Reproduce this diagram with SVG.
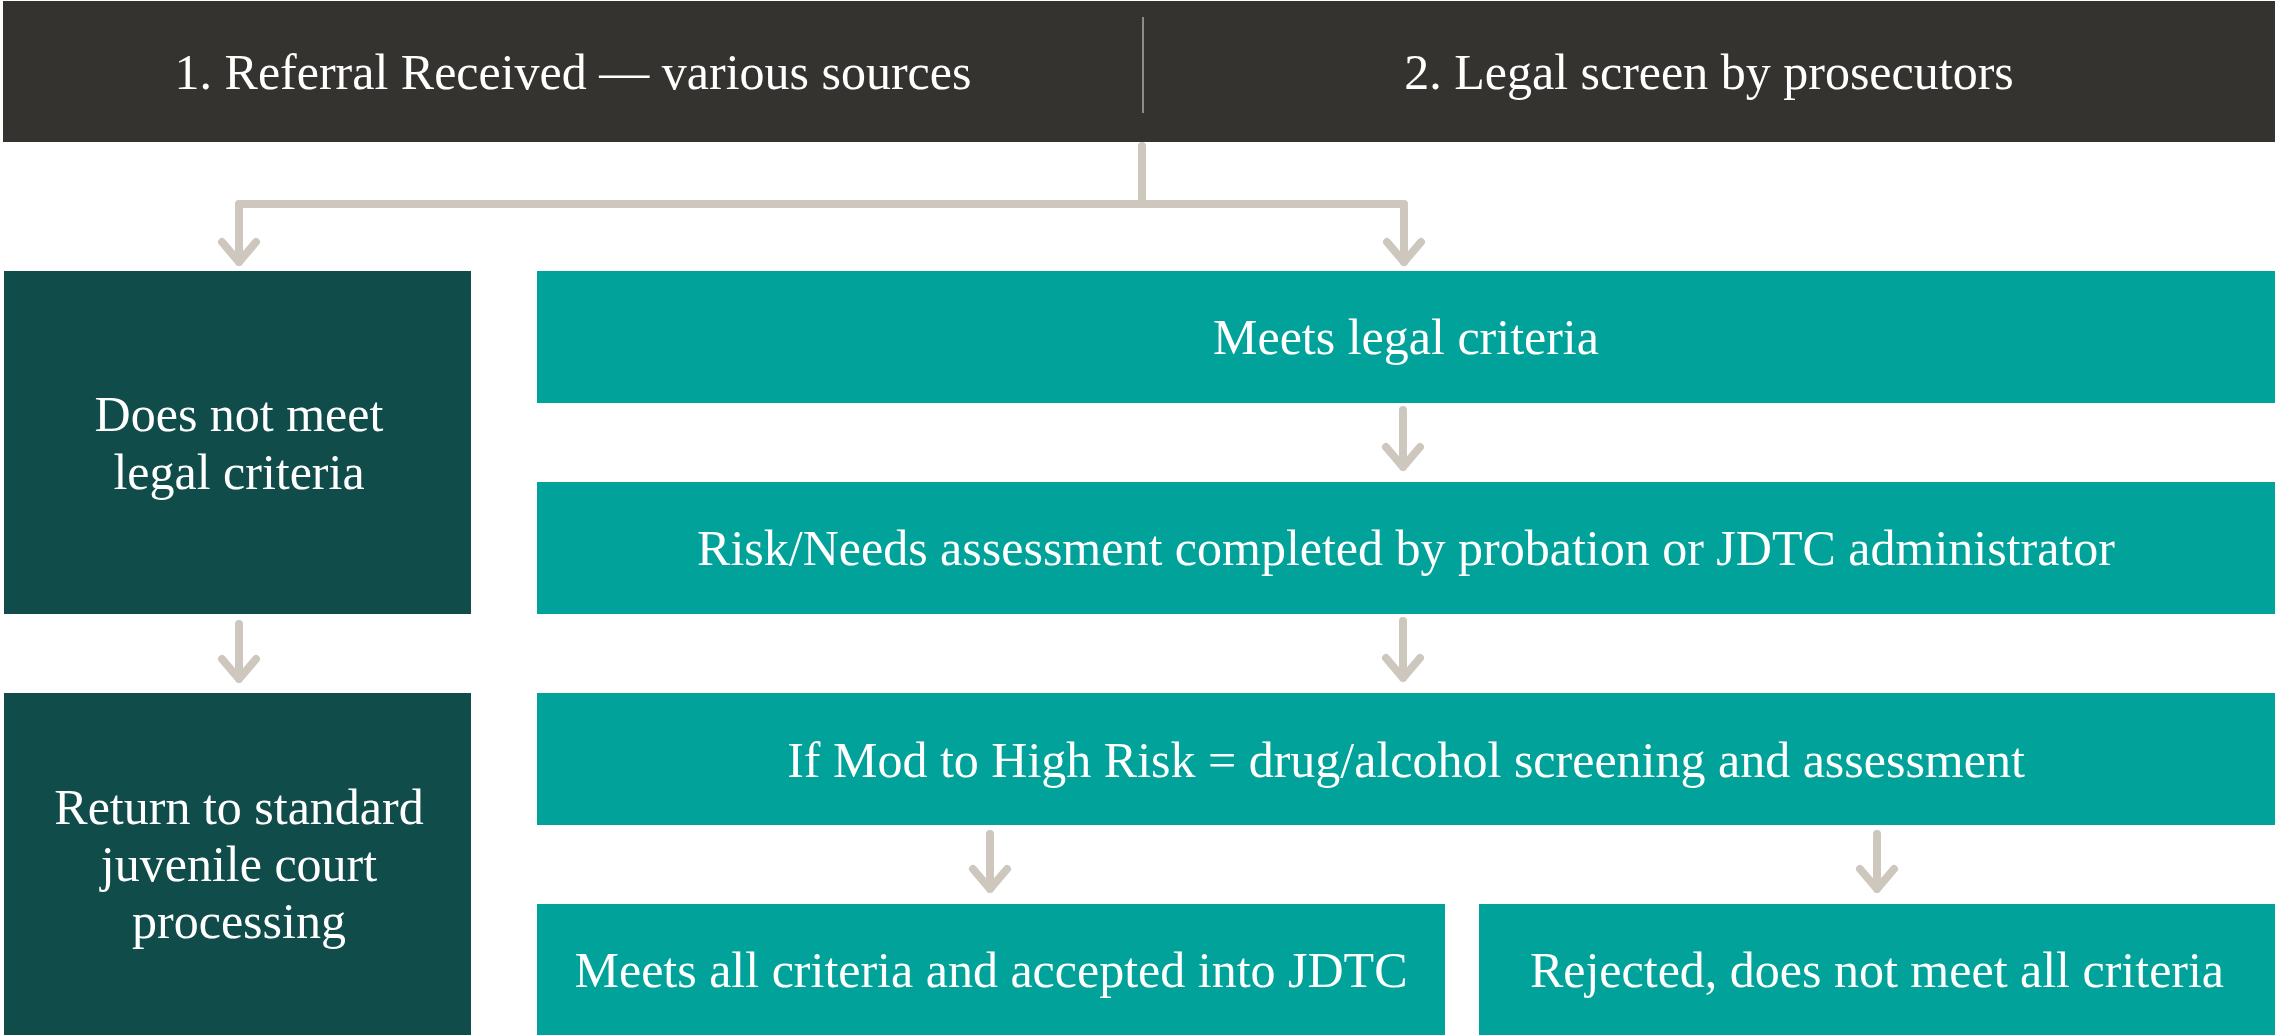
<svg xmlns="http://www.w3.org/2000/svg" width="2279" height="1035" viewBox="0 0 2279 1035">
<defs>
<style>
.hdr{fill:#35332F}
.dk{fill:#0F4C4A}
.tl{fill:#00A29A}
text{font-family:"Liberation Serif","Times New Roman",serif;font-size:50px;fill:#FFFFFF;text-anchor:middle}
.con{fill:none;stroke:#CDC7BE;stroke-width:8;stroke-linecap:round;stroke-linejoin:round}
</style>
</defs>
<rect x="0" y="0" width="2279" height="1035" fill="#FFFFFF"/>
<g id="header">
<rect class="hdr" x="3" y="1" width="2272" height="141"/>
<line x1="1143" y1="17" x2="1143" y2="113" stroke="#8E8C88" stroke-width="2"/>
<text x="573" y="89">1. Referral Received — various sources</text>
<text x="1709" y="89">2. Legal screen by prosecutors</text>
</g>
<g id="connectors">
<path class="con" d="M1142,146 V204 M239,204 H1404 M239,204 V262 M1404,204 V262"/>
<path class="con" d="M222,242 L239,262 L256,242 M1387,242 L1404,262 L1421,242"/>
<path class="con" d="M1403,410 V467 M1386,447 L1403,467 L1420,447"/>
<path class="con" d="M1403,621 V678 M1386,658 L1403,678 L1420,658"/>
<path class="con" d="M239,624 V679 M222,659 L239,679 L256,659"/>
<path class="con" d="M990,834 V889 M973,869 L990,889 L1007,869"/>
<path class="con" d="M1877,834 V889 M1860,869 L1877,889 L1894,869"/>
</g>
<g id="node-not-meet">
<rect class="dk" x="4" y="271" width="467" height="343"/>
<text x="239" y="431">Does not meet</text>
<text x="239" y="489">legal criteria</text>
</g>
<g id="node-return">
<rect class="dk" x="4" y="693" width="467" height="342"/>
<text x="239" y="824">Return to standard</text>
<text x="239" y="881">juvenile court</text>
<text x="239" y="938">processing</text>
</g>
<g id="node-meets">
<rect class="tl" x="537" y="271" width="1738" height="132"/>
<text x="1406" y="354">Meets legal criteria</text>
</g>
<g id="node-risk">
<rect class="tl" x="537" y="482" width="1738" height="132"/>
<text x="1406" y="565">Risk/Needs assessment completed by probation or JDTC administrator</text>
</g>
<g id="node-screening">
<rect class="tl" x="537" y="693" width="1738" height="132"/>
<text x="1406" y="777">If Mod to High Risk = drug/alcohol screening and assessment</text>
</g>
<g id="node-accepted">
<rect class="tl" x="537" y="904" width="908" height="131"/>
<text x="991" y="987">Meets all criteria and accepted into JDTC</text>
</g>
<g id="node-rejected">
<rect class="tl" x="1479" y="904" width="796" height="131"/>
<text x="1877" y="987">Rejected, does not meet all criteria</text>
</g>
</svg>
